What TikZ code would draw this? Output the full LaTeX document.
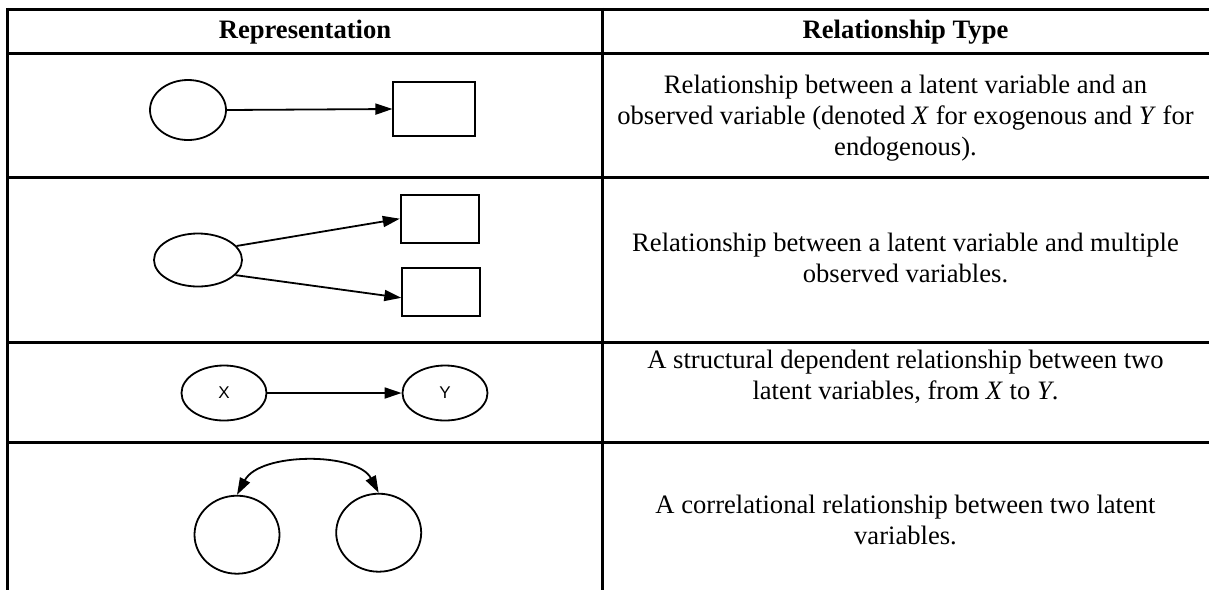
\documentclass[tikz,border=0pt]{standalone}
\usepackage{fontspec}
\setmainfont{Liberation Serif}
\newfontfamily\labelfont{Liberation Sans}
\usetikzlibrary{shapes.geometric,arrows.meta}
\begin{document}
\begin{tikzpicture}[x=1pt,y=-1pt,
  rule/.style={line width=3pt},
  latent/.style={draw, ellipse, line width=1.8pt, inner sep=0pt, font=\labelfont\fontsize{17}{19}\selectfont},
  observed/.style={draw, rectangle, line width=1.8pt, inner sep=0pt},
  link/.style={line width=1.8pt, -{Triangle[length=17pt,width=11pt]}},
  twoway/.style={line width=1.8pt, {Triangle[length=17pt,width=11pt]}-{Triangle[length=17pt,width=11pt]}},
  cell/.style={align=center, font=\fontsize{26.6}{31}\selectfont},
  head/.style={align=center, font=\fontsize{26.6}{31}\selectfont\bfseries}]
\useasboundingbox (0,0) rectangle (1209,590);

% table rules (no right or bottom border)
\draw[rule] (7.5,9.3) -- (1209,9.3);
\draw[rule] (7.5,53.5) -- (1209,53.5);
\draw[rule] (7.5,177.3) -- (1209,177.3);
\draw[rule] (7.5,342.5) -- (1209,342.5);
\draw[rule] (7.5,442.7) -- (1209,442.7);
\draw[rule] (7.5,7.8) -- (7.5,590);
\draw[rule] (602,7.8) -- (602,590);

% header
\node[head] (h1) at (305,32) {Representation};
\node[head] (h2) at (905.5,32) {Relationship Type};

% row 1: latent -> observed
\node[latent, minimum width=76pt, minimum height=60pt] (a1) at (188,110) {};
\node[observed, minimum width=82pt, minimum height=54pt] (b1) at (434.3,109) {};
\draw[link] (a1.east) -- (b1.west);
\node[cell] (t1) at (905.5,118) {Relationship between a latent variable and an\\
observed variable (denoted \textit{X} for exogenous and \textit{Y} for\\
endogenous).};

% row 2: latent -> two observed
\node[latent, minimum width=88pt, minimum height=53pt] (a2) at (198,260) {};
\node[observed, minimum width=78pt, minimum height=48pt] (b2) at (439.7,218.7) {};
\node[observed, minimum width=78pt, minimum height=48pt] (c2) at (441.2,292.2) {};
\draw[link] (a2.20) -- (b2.west);
\draw[link] (a2.-22) -- (c2.188);
\node[cell] (t2) at (905.5,258) {Relationship between a latent variable and multiple\\
observed variables.};

% row 3: X -> Y
\node[latent, minimum width=85pt, minimum height=55pt] (x3) at (224,393) {X};
\node[latent, minimum width=85pt, minimum height=55pt] (y3) at (445,393) {Y};
\draw[link] (x3) -- (y3);
\node[cell] (t3) at (905.5,377) {A structural dependent relationship between two\\
latent variables, from \textit{X} to \textit{Y}.};

% row 4: correlation between two latent variables
\node[latent, minimum width=85pt, minimum height=78pt] (p4) at (237,534.7) {};
\node[latent, minimum width=85pt, minimum height=78pt] (q4) at (378.7,532.7) {};
\draw[twoway] (p4.north) .. controls (260,452) and (357,452) .. (q4.north);
\node[cell] (t4) at (905.5,520) {A correlational relationship between two latent\\
variables.};
\end{tikzpicture}
\end{document}
